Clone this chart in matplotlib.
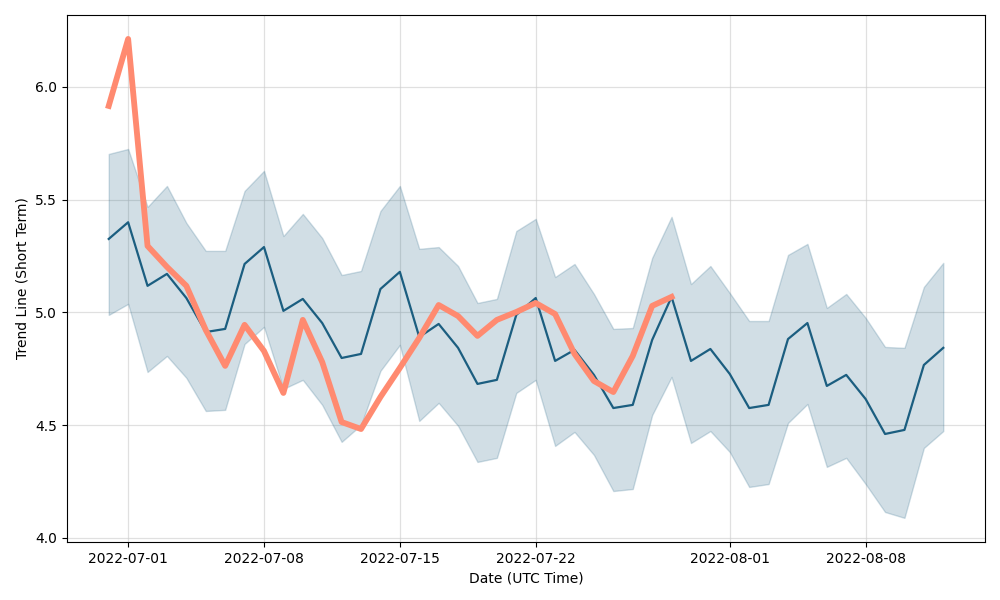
import numpy as np
import pandas as pd
import matplotlib
matplotlib.use("Agg")
import matplotlib.pyplot as plt
import matplotlib.dates as mdates

dates = pd.date_range("2022-06-30", "2022-08-12", freq="D")

trend_mean = [5.326, 5.40, 5.118, 5.171, 5.064, 4.913, 4.927, 5.215, 5.29, 5.007,
              5.06, 4.953, 4.798, 4.816, 5.104, 5.18, 4.891, 4.949, 4.843, 4.683,
              4.701, 4.989, 5.064, 4.785, 4.834, 4.723, 4.576, 4.590, 4.878, 5.069,
              4.785, 4.838, 4.727, 4.576, 4.590, 4.882, 4.953, 4.674, 4.723, 4.616,
              4.461, 4.479, 4.767, 4.843]

trend_upper = [5.703, 5.725, 5.468, 5.561, 5.397, 5.273, 5.273, 5.539, 5.628, 5.339,
               5.437, 5.33, 5.166, 5.184, 5.45, 5.561, 5.282, 5.29, 5.206, 5.042,
               5.06, 5.361, 5.415, 5.157, 5.215, 5.082, 4.927, 4.931, 5.242, 5.424,
               5.126, 5.206, 5.086, 4.962, 4.962, 5.255, 5.304, 5.02, 5.082, 4.976,
               4.847, 4.843, 5.113, 5.22]

trend_lower = [4.989, 5.038, 4.736, 4.807, 4.71, 4.563, 4.568, 4.86, 4.936, 4.661,
               4.701, 4.59, 4.426, 4.501, 4.741, 4.856, 4.519, 4.599, 4.497, 4.337,
               4.355, 4.643, 4.701, 4.408, 4.47, 4.368, 4.208, 4.217, 4.545, 4.714,
               4.421, 4.474, 4.381, 4.226, 4.239, 4.51, 4.594, 4.315, 4.355, 4.239,
               4.115, 4.089, 4.399, 4.474]

actual = [5.916, 6.213, 5.295, 5.202, 5.118, 4.922, 4.763, 4.945, 4.829, 4.643,
          4.967, 4.78, 4.514, 4.483, 4.625, 4.754, 4.887, 5.033, 4.984, 4.896,
          4.967, 5.002, 5.042, 4.993, 4.816, 4.696, 4.647, 4.807, 5.029, 5.069]

fig, ax = plt.subplots(figsize=(10, 6), dpi=100)
fig.subplots_adjust(left=0.067, right=0.985, top=0.975, bottom=0.097)

blue = "#1b5e80"
ax.fill_between(dates, trend_lower, trend_upper, color=blue, alpha=0.2)
ax.plot(dates, trend_mean, color=blue, linewidth=1.6)
ax.plot(dates[:len(actual)], actual, color="#ff8a70", linewidth=4.2)

ax.grid(True, color="#cccccc", alpha=0.6, linewidth=0.9)
ax.set_axisbelow(True)
ax.set_yticks([4.0, 4.5, 5.0, 5.5, 6.0])
ax.xaxis.set_major_locator(mdates.DayLocator(bymonthday=[1, 8, 15, 22]))
ax.xaxis.set_major_formatter(mdates.DateFormatter("%Y-%m-%d"))
ax.set_xlabel("Date (UTC Time)")
ax.set_ylabel("Trend Line (Short Term)")

fig.savefig("out.png", dpi=100)
